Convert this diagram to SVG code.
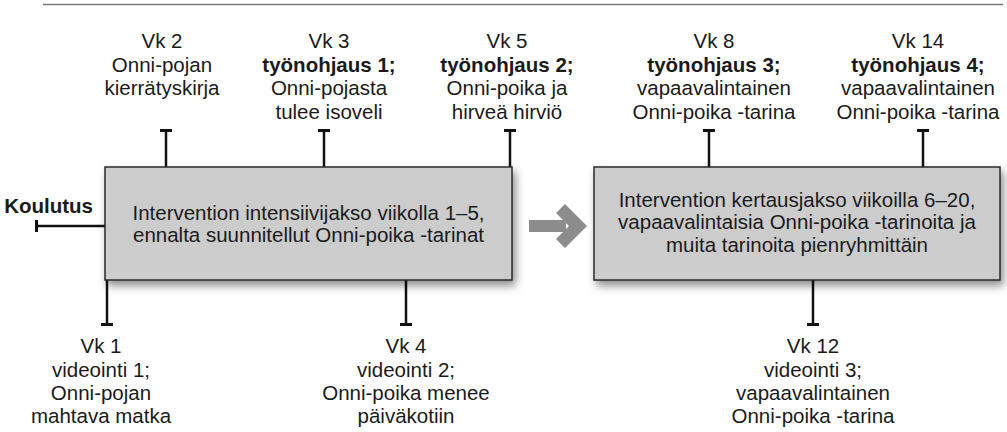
<svg xmlns="http://www.w3.org/2000/svg" width="1007" height="432" viewBox="0 0 1007 432">
<style>
  text { font-family: "Liberation Sans", Arial, sans-serif; font-size: 20.5px; fill: #1a1a1a; }
  .c { text-anchor: middle; }
  .b { font-weight: bold; }
  .box { fill: #cccccc; stroke: #2a2a2a; stroke-width: 1.5; }
  .ln { stroke: #111; stroke-width: 2.5; fill: none; }
  .bar { stroke: #111; stroke-width: 3; fill: none; }
</style>
<defs>
  <filter id="sh" x="-10%" y="-20%" width="125%" height="150%">
    <feDropShadow dx="3" dy="5" stdDeviation="4" flood-color="#000" flood-opacity="0.45"/>
  </filter>
</defs>
<line x1="43" y1="4.5" x2="1003" y2="4.5" stroke="#777" stroke-width="1.5"/>

<g id="connectors">
  <line class="ln" x1="166" y1="130" x2="166" y2="167"/>
  <line class="bar" x1="160" y1="130.5" x2="172" y2="130.5"/>
  <line class="ln" x1="324" y1="130" x2="324" y2="167"/>
  <line class="bar" x1="318" y1="130.5" x2="330" y2="130.5"/>
  <line class="ln" x1="510" y1="130" x2="510" y2="167"/>
  <line class="bar" x1="504" y1="130.5" x2="516" y2="130.5"/>
  <line class="ln" x1="709" y1="130" x2="709" y2="167"/>
  <line class="bar" x1="703" y1="130.5" x2="715" y2="130.5"/>
  <line class="ln" x1="923" y1="130" x2="923" y2="167"/>
  <line class="bar" x1="917" y1="130.5" x2="929" y2="130.5"/>
  <line class="ln" x1="107" y1="280" x2="107" y2="325"/>
  <line class="bar" x1="101" y1="324.5" x2="113" y2="324.5"/>
  <line class="ln" x1="406" y1="280" x2="406" y2="325"/>
  <line class="bar" x1="400" y1="324.5" x2="412" y2="324.5"/>
  <line class="ln" x1="813" y1="280" x2="813" y2="325"/>
  <line class="bar" x1="807" y1="324.5" x2="819" y2="324.5"/>
  <line class="ln" x1="36" y1="226" x2="105" y2="226"/>
  <line class="bar" x1="36.5" y1="220" x2="36.5" y2="232"/>
  <g id="arrow" fill="#8c8c8c">
    <rect x="529" y="220" width="37" height="12"/>
    <polygon points="556,213 565,204 587,226 565,248 556,239 569,226"/>
  </g>
</g>

<g id="box1">
  <rect class="box" x="105" y="167" width="407" height="113" filter="url(#sh)"/>
  <text class="c" x="308.5" y="220">Intervention intensiivijakso viikolla 1–5,</text>
  <text class="c" x="308.5" y="242">ennalta suunnitellut Onni-poika -tarinat</text>
</g>

<g id="box2">
  <rect class="box" x="594" y="167" width="406" height="113" filter="url(#sh)"/>
  <text class="c" x="797" y="206.5">Intervention kertausjakso viikoilla 6–20,</text>
  <text class="c" x="797" y="229">vapaavalintaisia Onni-poika -tarinoita ja</text>
  <text class="c" x="797" y="251.5">muita tarinoita pienryhmittäin</text>
</g>

<g id="koulutus">
  <text class="b" x="93" y="213" text-anchor="end">Koulutus</text>
</g>

<g id="vk2">
  <text class="c" x="162" y="48">Vk 2</text>
  <text class="c" x="162" y="72">Onni-pojan</text>
  <text class="c" x="162" y="95">kierrätyskirja</text>
</g>
<g id="vk3">
  <text class="c" x="329" y="48">Vk 3</text>
  <text class="c b" x="329" y="72">työnohjaus 1;</text>
  <text class="c" x="329" y="95">Onni-pojasta</text>
  <text class="c" x="329" y="118.5">tulee isoveli</text>
</g>
<g id="vk5">
  <text class="c" x="507" y="48">Vk 5</text>
  <text class="c b" x="507" y="72">työnohjaus 2;</text>
  <text class="c" x="507" y="95">Onni-poika ja</text>
  <text class="c" x="507" y="118.5">hirveä hirviö</text>
</g>
<g id="vk8">
  <text class="c" x="714" y="48">Vk 8</text>
  <text class="c b" x="714" y="72">työnohjaus 3;</text>
  <text class="c" x="714" y="95">vapaavalintainen</text>
  <text class="c" x="714" y="118.5">Onni-poika -tarina</text>
</g>
<g id="vk14">
  <text class="c" x="918" y="48">Vk 14</text>
  <text class="c b" x="918" y="72">työnohjaus 4;</text>
  <text class="c" x="918" y="95">vapaavalintainen</text>
  <text class="c" x="918" y="118.5">Onni-poika -tarina</text>
</g>
<g id="vk1">
  <text class="c" x="101" y="353">Vk 1</text>
  <text class="c" x="101" y="376.5">videointi 1;</text>
  <text class="c" x="101" y="400">Onni-pojan</text>
  <text class="c" x="101" y="423">mahtava matka</text>
</g>
<g id="vk4">
  <text class="c" x="406" y="353">Vk 4</text>
  <text class="c" x="406" y="376.5">videointi 2;</text>
  <text class="c" x="406" y="400">Onni-poika menee</text>
  <text class="c" x="406" y="423">päiväkotiin</text>
</g>
<g id="vk12">
  <text class="c" x="813" y="353">Vk 12</text>
  <text class="c" x="813" y="376.5">videointi 3;</text>
  <text class="c" x="813" y="400">vapaavalintainen</text>
  <text class="c" x="813" y="423">Onni-poika -tarina</text>
</g>
</svg>
